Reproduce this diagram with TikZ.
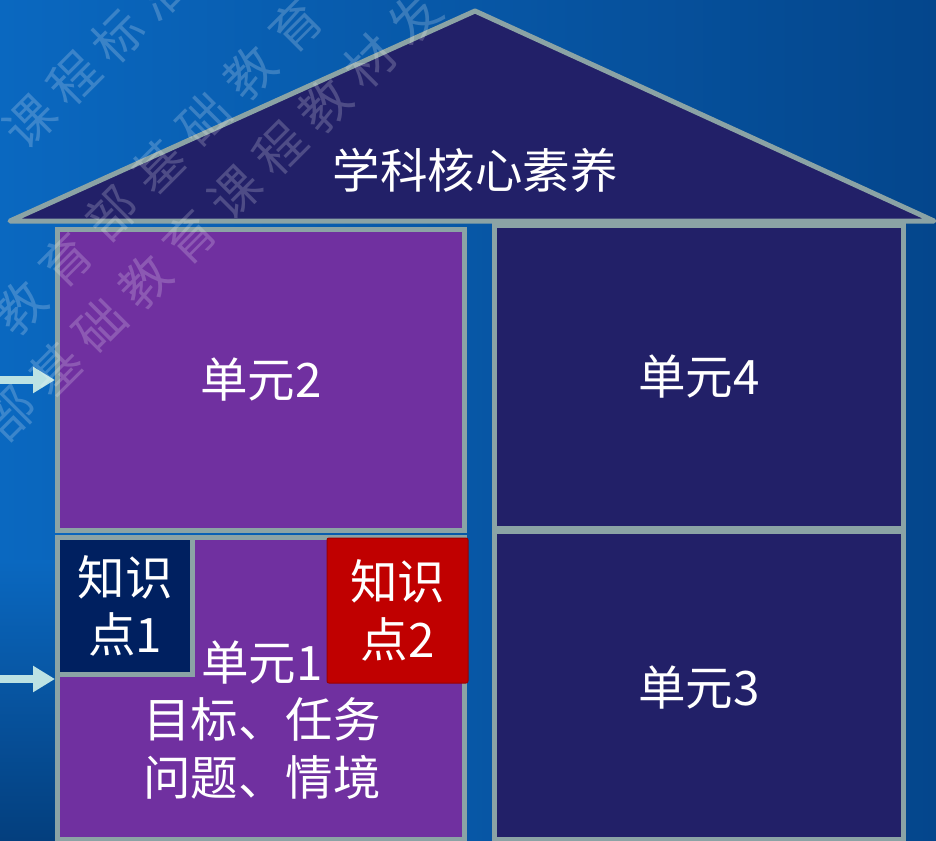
\documentclass[tikz,border=0pt]{standalone}
\usepackage{fontspec}
\newfontfamily\cjk{Noto Sans CJK SC}
\usetikzlibrary{arrows.meta,calc}
\definecolor{bgL}{RGB}{10,104,192}
\definecolor{bgM}{RGB}{4,108,200}
\definecolor{bgR}{RGB}{4,70,140}
\definecolor{edgec}{RGB}{139,163,165}
\definecolor{navyu}{RGB}{34,32,104}
\definecolor{purp}{RGB}{112,48,160}
\definecolor{kdark}{RGB}{0,32,96}
\definecolor{kred}{RGB}{192,0,0}
\definecolor{arrc}{RGB}{188,226,227}
\begin{document}
\begin{tikzpicture}[x=1pt,y=-1pt,
  unitbox/.style={draw=edgec, line width=5pt, inner sep=0pt, text=white,
    font=\cjk\fontsize{47.5}{57.5}\selectfont, align=center},
  lbl/.style={text=white, inner sep=0pt, font=\cjk\fontsize{47.5}{57.5}\selectfont, align=center},
  wm/.style={text=white, opacity=0.2, inner sep=0pt, font=\cjk\fontsize{50}{50}\selectfont, rotate=45},
  arr/.style={draw=arrc, line width=8pt, -{Triangle[length=22pt,width=25pt]}}]
\useasboundingbox (0,0) rectangle (936,840);
\begin{scope}
\clip (0,0) rectangle (936,840);
% background
\shade[left color=bgL, middle color=bgM, right color=bgR] (0,0) rectangle (936,840);
\shade[top color=bgL, bottom color=bgR!90!black] (0,560) rectangle (57,840);
% roof
\filldraw[fill=navyu, draw=edgec, line width=5pt, line join=round] (10,221) -- (475,11) -- (934,221) -- cycle;
\node[lbl] (roof) at (475,170) {学科核心素养};
% units
\node[unitbox, fill=purp, minimum width=407pt, minimum height=301pt] (u2) at (261,379.5) {单元2};
\node[unitbox, fill=navyu, minimum width=408.5pt, minimum height=303pt] (u4) at (698.75,376.5) {单元4};
\node[unitbox, fill=navyu, minimum width=408.5pt, minimum height=308pt] (u3) at (698.75,685) {};
\node[lbl] (u3t) at (699,688) {单元3};
\node[unitbox, fill=purp, minimum width=407pt, minimum height=302pt] (u1) at (261,688) {};
\node[lbl] (u1t) at (262,720) {单元1\\目标、任务\\问题、情境};
\node[unitbox, fill=kdark, minimum width=135pt, minimum height=137pt] (k1) at (125,606) {知识\\点1};
\node[unitbox, draw=kred!80!black, line width=1pt, rounded corners=2pt, fill=kred, minimum width=141pt, minimum height=145pt] (k2) at (397.5,610.5) {知识\\点2};
% arrows
\coordinate (s1) at (0,380);
\coordinate (s2) at (0,679);
\draw[arr] (s1) -- (s1 -| u2.west);
\draw[arr] (s2) -- (s2 -| u1.west);
% watermark
\foreach \c [count=\i from 0] in {课,程,标,准}
  \node[wm] (wa\i) at ({30+44*\i},{122-43*\i}) {\c};
\foreach \c [count=\i from 0] in {教,育,部,基,础,教,育}
  \node[wm] (wb\i) at ({20+46*\i},{307-47*\i}) {\c};
\foreach \c [count=\i from 0] in {部,基,础,教,育,课,程,教,材,发}
  \node[wm] (wc\i) at ({10+45*\i},{413-44*\i}) {\c};
\end{scope}
\end{tikzpicture}
\end{document}
